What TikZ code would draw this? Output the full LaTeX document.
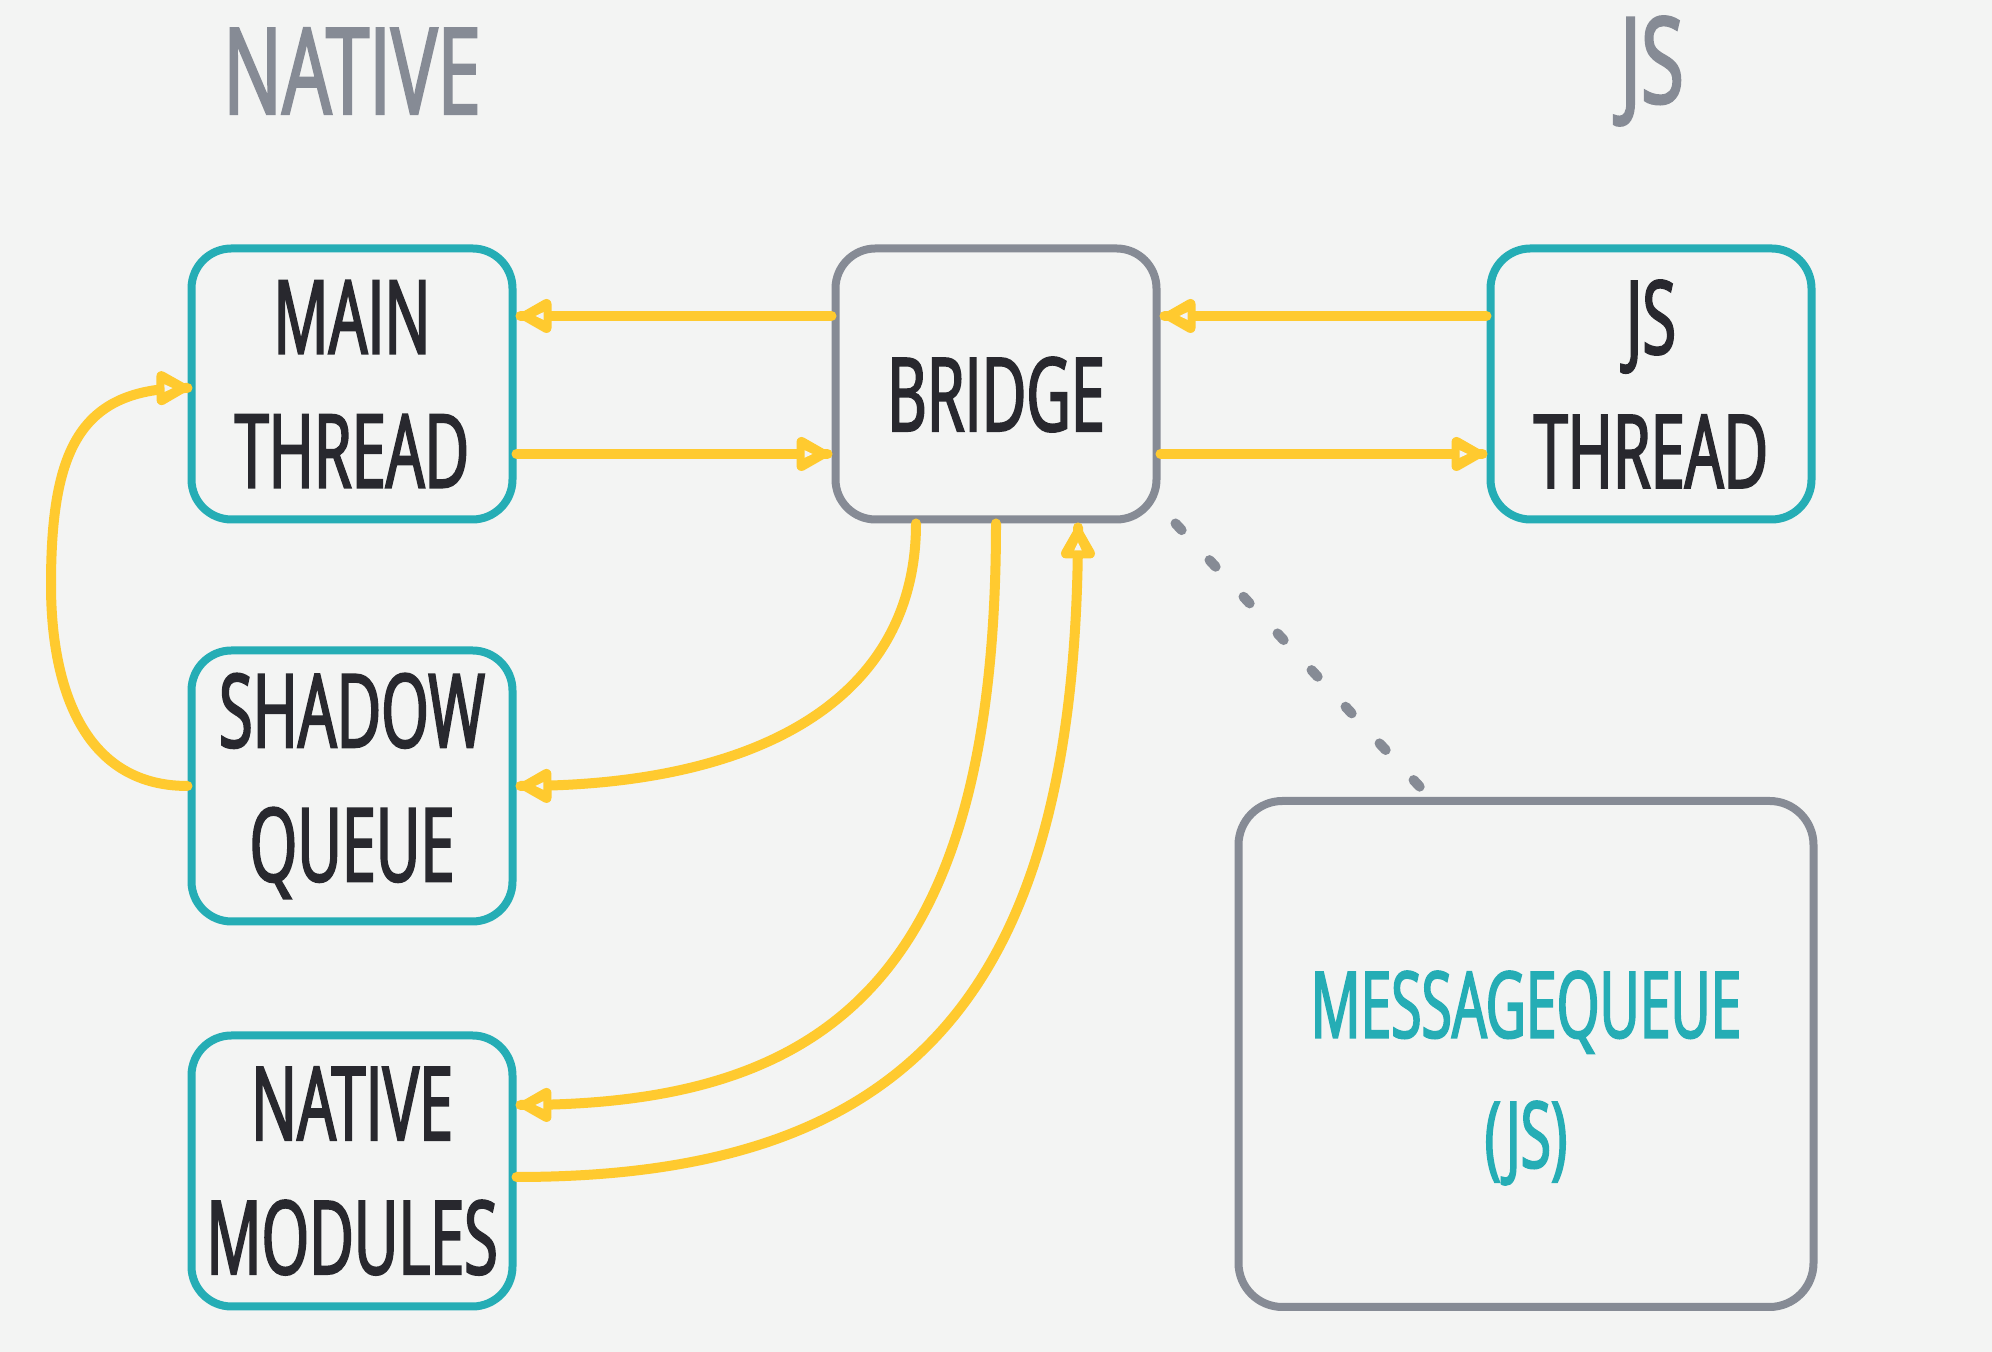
\documentclass[tikz,border=0pt]{standalone}
\usepackage{fontspec}
\setmainfont[FakeStretch=0.6, FakeBold=2]{Open Sans}
\newfontfamily\headfont[FakeStretch=0.65, FakeBold=2]{Open Sans}
\usetikzlibrary{decorations.markings}

\definecolor{bgc}{HTML}{F3F4F3}
\definecolor{tealc}{HTML}{25ADB5}
\definecolor{grayc}{HTML}{868B95}
\definecolor{yellowc}{HTML}{FFCA2F}
\definecolor{inkc}{HTML}{28282E}

% hollow triangular head, placed 1pt before the end of a connector
\newcommand\hollowhead{%
  \draw[yellowc, fill=yellowc, line width=5pt, line join=round]
    (-1.5pt,0pt) -- (-12pt,6pt) -- (-12pt,-6pt) -- cycle;
  \fill[bgc] (-6.5pt,0pt) -- (-10.5pt,1.9pt) -- (-10.5pt,-1.9pt) -- cycle;}

\begin{document}
\begin{tikzpicture}[x=0.5pt,y=0.5pt,
  box/.style={draw=tealc, line width=4pt, rounded corners=20pt,
    minimum width=160.5pt, minimum height=135.5pt, inner sep=0pt,
    align=center, text=inkc, font=\fontsize{51}{67}\selectfont},
  hub/.style={box, draw=grayc},
  bigbox/.style={draw=grayc, line width=4pt, rounded corners=22pt,
    minimum width=287.5pt, minimum height=253pt, inner sep=0pt},
  qtext/.style={inner sep=0pt, align=center, text=tealc, font=\fontsize{46}{65}\selectfont},
  heading/.style={inner sep=0pt, text=grayc, font=\headfont\fontsize{60}{70}\selectfont},
  plain flow/.style={draw=yellowc, line width=5pt, line cap=round},
  flow/.style={plain flow, postaction={decorate},
    decoration={markings, mark=at position -1pt with {\hollowhead}}},
  dots/.style={draw=grayc, line width=5pt, line cap=round, dash pattern=on 4.5pt off 20.5pt}]

% page and background
\fill[bgc] (0,0) rectangle (1992,1352);
\useasboundingbox (0,0) rectangle (1992,1352);

% column headings
\node[heading] (tnative) at (352,1281) {NATIVE};
\node[heading] (tjs) at (1652,1281) {JS};

% boxes
\node[box] (main) at (352,968) {MAIN\\THREAD};
\node[hub, text height=47pt, text depth=0pt] (bridge) at (996,968) {BRIDGE};
\node[box] (js) at (1651,968) {JS\\THREAD};
\node[box] (shadow) at (352,566) {SHADOW\\QUEUE};
\node[box] (natmod) at (352,181) {NATIVE\\MODULES};
\node[bigbox] (mq) at (1526,298) {};
\node[qtext] (mqlabel) at ([yshift=-12pt]mq.center) {MESSAGEQUEUE\\(JS)};

% horizontal links between the threads and the bridge
\draw[flow] ([yshift=34pt]bridge.west) -- ([xshift=2pt,yshift=34pt]main.east);
\draw[flow] ([yshift=-35pt]main.east) -- ([xshift=-2pt,yshift=-35pt]bridge.west);
\draw[flow] ([yshift=34pt]js.west) -- ([xshift=2pt,yshift=34pt]bridge.east);
\draw[flow] ([yshift=-35pt]bridge.east) -- ([xshift=-2pt,yshift=-35pt]js.west);

% bridge to shadow queue and native modules
\draw[flow] ([xshift=-40pt]bridge.south) .. controls +(0,-177) and +(236,0) .. ([xshift=2pt]shadow.east);
\draw[flow] (bridge.south) .. controls +(0,-457) and +(306,0) .. ([xshift=2pt,yshift=33pt]natmod.east);
\draw[flow] ([yshift=-3pt]natmod.east) .. controls +(384,0) and +(0,-477) .. ([xshift=41pt,yshift=-2pt]bridge.south);

% shadow queue back to the main thread
\coordinate (loop) at (51,767);
\draw[plain flow] (shadow.west) .. controls +(-108,0) and +(0,-95) .. (loop);
\draw[flow] (loop) .. controls +(0,135) and +(-108,0) .. ([yshift=-2pt]main.west);

% dotted tie between bridge and message queue
\draw[dots] ([xshift=7.5pt]bridge.south east) -- ([xshift=-53pt,yshift=5pt]mq.north);
\end{tikzpicture}
\end{document}
